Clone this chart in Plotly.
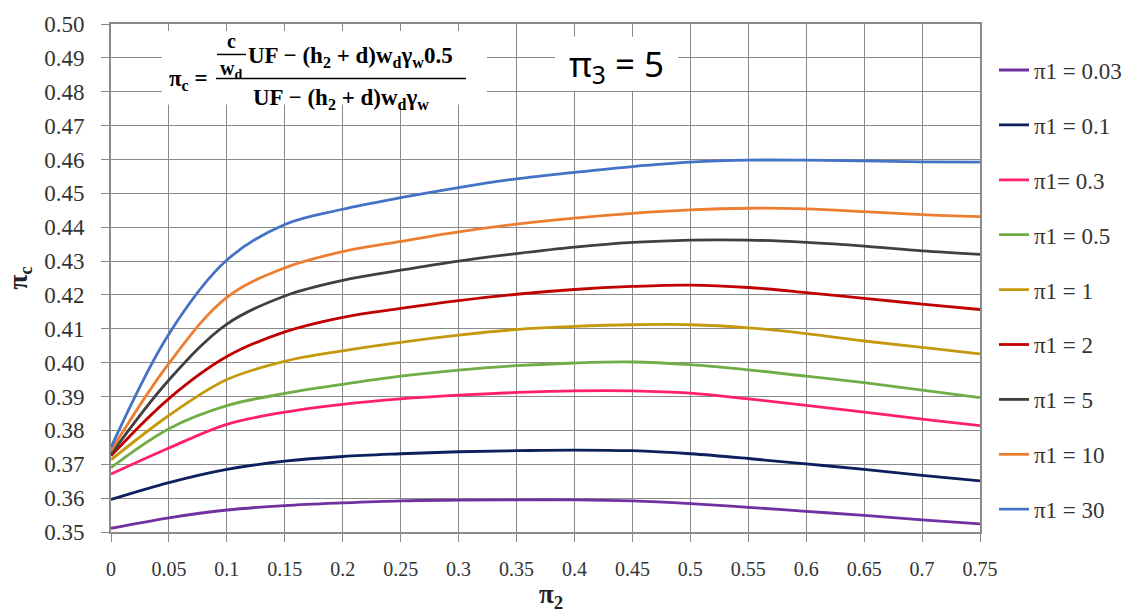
import plotly.graph_objects as go

# ---------------- data ----------------
pi2 = [0.0, 0.05, 0.1, 0.15, 0.2, 0.25, 0.3, 0.35, 0.4, 0.45, 0.5, 0.55, 0.6, 0.65, 0.7, 0.75]

pi1_003 = [0.3511, 0.3542, 0.3565, 0.3578, 0.3586, 0.3592, 0.3594, 0.3595, 0.3595, 0.3592, 0.3584, 0.3573, 0.3561, 0.3549, 0.3536, 0.3524]
pi1_01 = [0.3596, 0.3646, 0.3685, 0.3709, 0.3723, 0.3731, 0.3737, 0.3740, 0.3742, 0.3740, 0.3731, 0.3717, 0.3701, 0.3685, 0.3667, 0.3651]
pi1_03 = [0.3671, 0.3748, 0.3818, 0.3854, 0.3877, 0.3893, 0.3904, 0.3912, 0.3917, 0.3917, 0.3910, 0.3893, 0.3874, 0.3854, 0.3833, 0.3814]
pi1_05 = [0.3690, 0.3805, 0.3873, 0.3909, 0.3936, 0.3960, 0.3978, 0.3991, 0.3999, 0.4002, 0.3994, 0.3979, 0.3960, 0.3941, 0.3919, 0.3897]
pi1_1 = [0.3713, 0.3844, 0.3950, 0.4004, 0.4035, 0.4060, 0.4081, 0.4098, 0.4107, 0.4112, 0.4112, 0.4103, 0.4086, 0.4064, 0.4045, 0.4026]
pi1_2 = [0.3725, 0.3894, 0.4018, 0.4091, 0.4134, 0.4160, 0.4183, 0.4202, 0.4216, 0.4225, 0.4229, 0.4222, 0.4207, 0.4190, 0.4173, 0.4157]
pi1_5 = [0.3730, 0.3949, 0.4114, 0.4197, 0.4243, 0.4273, 0.4300, 0.4322, 0.4341, 0.4355, 0.4362, 0.4362, 0.4355, 0.4344, 0.4330, 0.4320]
pi1_10 = [0.3740, 0.3998, 0.4193, 0.4280, 0.4328, 0.4358, 0.4386, 0.4409, 0.4427, 0.4441, 0.4451, 0.4456, 0.4454, 0.4446, 0.4437, 0.4431]
pi1_30 = [0.3750, 0.4085, 0.4303, 0.4408, 0.4453, 0.4487, 0.4517, 0.4543, 0.4562, 0.4579, 0.4592, 0.4598, 0.4598, 0.4596, 0.4593, 0.4592]

series_names = ["π1 = 0.03", "π1 = 0.1", "π1= 0.3", "π1 = 0.5", "π1 = 1", "π1 = 2", "π1 = 5", "π1 = 10", "π1 = 30"]
series_values = [pi1_003, pi1_01, pi1_03, pi1_05, pi1_1, pi1_2, pi1_5, pi1_10, pi1_30]
series_colors = ["#7030A0", "#0D1F5C", "#FF1F6E", "#70AD47", "#C49A0C", "#C00000", "#404040", "#ED7D31", "#4472C4"]

x_tickvals = [0.0, 0.05, 0.1, 0.15, 0.2, 0.25, 0.3, 0.35, 0.4, 0.45, 0.5, 0.55, 0.6, 0.65, 0.7, 0.75]
x_ticktext = ["0", "0.05", "0.1", "0.15", "0.2", "0.25", "0.3", "0.35", "0.4", "0.45", "0.5", "0.55", "0.6", "0.65", "0.7", "0.75"]
y_tickvals = [0.35, 0.36, 0.37, 0.38, 0.39, 0.40, 0.41, 0.42, 0.43, 0.44, 0.45, 0.46, 0.47, 0.48, 0.49, 0.50]
y_ticktext = ["0.35", "0.36", "0.37", "0.38", "0.39", "0.40", "0.41", "0.42", "0.43", "0.44", "0.45", "0.46", "0.47", "0.48", "0.49", "0.50"]

# ---------------- layout geometry ----------------
W, H = 1142, 616
L, R, T, B = 111, 980, 15, 532


def px(x):
    return (x - L) / (R - L)


def py(y):
    return (B - y) / (B - T)


fig = go.Figure()
for name, vals, col in zip(series_names, series_values, series_colors):
    fig.add_trace(go.Scatter(
        x=pi2, y=vals, name=name, mode="lines",
        line=dict(color=col, width=2.8, shape="spline", smoothing=1.0),
        legendgroup=name,
    ))

grid_col = "#8a8a8a"
tick_font_col = "#333333"
serif = "Liberation Serif"

fig.update_layout(
    width=W, height=H,
    margin=dict(l=L, r=W - R, t=T, b=H - B, pad=0),
    paper_bgcolor="white", plot_bgcolor="white",
    showlegend=True,
    legend=dict(
        x=px(994), y=py(40), xanchor="left", yanchor="top",
        font=dict(family=serif, size=23, color="#333333"),
        tracegroupgap=22, traceorder="grouped",
        bgcolor="rgba(0,0,0,0)", borderwidth=0,
    ),
    xaxis=dict(
        range=[0, 0.75], tickmode="array", tickvals=x_tickvals, ticktext=x_ticktext,
        showgrid=True, gridcolor=grid_col, gridwidth=1.3,
        showline=True, linecolor="#8a8a8a", linewidth=2, mirror=True,
        ticks="outside", ticklen=8, tickcolor=grid_col, tickwidth=1.3,
        tickfont=dict(family=serif, size=20, color=tick_font_col),
        zeroline=False, ticklabelstandoff=10,
    ),
    yaxis=dict(
        range=[0.35, 0.50], tickmode="array", tickvals=y_tickvals, ticktext=y_ticktext,
        showgrid=True, gridcolor=grid_col, gridwidth=1.3,
        showline=True, linecolor="#8a8a8a", linewidth=2, mirror=True,
        ticks="outside", ticklen=8, tickcolor=grid_col, tickwidth=1.3,
        tickfont=dict(family=serif, size=23, color=tick_font_col),
        zeroline=False, ticklabelstandoff=12,
    ),
)

shapes = [
    # white boxes behind the formula and π3 label
    dict(type="rect", xref="paper", yref="paper", x0=px(162), x1=px(487), y0=py(97), y1=py(22),
         fillcolor="white", line=dict(width=0), layer="above"),
    dict(type="rect", xref="paper", yref="paper", x0=px(555), x1=px(678), y0=py(83), y1=py(28),
         fillcolor="white", line=dict(width=0), layer="above"),
    # fraction bars
    dict(type="line", xref="paper", yref="paper", x0=px(217), x1=px(246), y0=py(46), y1=py(46),
         line=dict(color="black", width=1.5), layer="above"),
    dict(type="line", xref="paper", yref="paper", x0=px(216), x1=px(466), y0=py(70.5), y1=py(70.5),
         line=dict(color="black", width=1.5), layer="above"),
]
fig.update_layout(shapes=shapes)

ann = [
    dict(x=px(188), y=py(72), text="<b>π<sub>c</sub> =</b>", font=dict(family=serif, size=23, color="black")),
    dict(x=px(231), y=py(46), yanchor="bottom", text="<b>c</b>", font=dict(family=serif, size=20, color="black")),
    dict(x=px(231), y=py(47), yanchor="top", text="<b>w<sub>d</sub></b>", font=dict(family=serif, size=20, color="black")),
    dict(x=px(246), y=py(49), xanchor="left",
         text="<b>UF − (h<sub>2</sub> + d)w<sub>d</sub>γ<sub>w</sub>0.5</b>",
         font=dict(family=serif, size=23, color="black")),
    dict(x=px(341), y=py(91),
         text="<b>UF − (h<sub>2</sub> + d)w<sub>d</sub>γ<sub>w</sub></b>",
         font=dict(family=serif, size=23, color="black")),
    dict(x=px(616), y=py(57), text="π<sub>3</sub> = 5", font=dict(family="Noto Sans", size=35, color="black")),
    dict(x=px(20), y=py(274), text="<b>π<sub>c</sub></b>", textangle=-90,
         font=dict(family=serif, size=27, color="#222222")),
    dict(x=px(551), y=py(597), text="<b>π<sub>2</sub></b>",
         font=dict(family=serif, size=27, color="#222222")),
]
for a in ann:
    a.update(xref="paper", yref="paper", showarrow=False)
    a.setdefault("xanchor", "center")
    a.setdefault("yanchor", "middle")
fig.update_layout(annotations=ann)

fig.write_html("out.html")
